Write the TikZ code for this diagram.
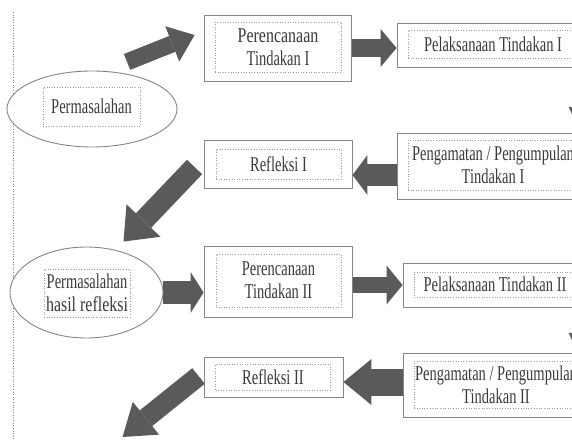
\documentclass[tikz,border=0pt]{standalone}
\usepackage{fontspec}
\setmainfont{Liberation Serif}
\usepackage{graphicx}
\usetikzlibrary{calc}
\usetikzlibrary{shapes.geometric, arrows.meta, backgrounds}

\definecolor{arrowgray}{HTML}{5A5A5A}
\definecolor{linegray}{HTML}{858585}
\definecolor{dotgray}{HTML}{9A9A9A}
\definecolor{textgray}{HTML}{3A3A3A}

% text of the scan is set tall and narrow
\newcommand{\tall}[2][1]{\scalebox{#1}[1.45]{#2}}

\tikzset{
  frame/.style={draw=linegray, fill=white, line width=0.9pt, inner sep=0pt},
  textbox/.style={draw=dotgray, dotted, line width=0.6pt, inner sep=0pt, align=center,
    text=textgray, font=\fontsize{14.5}{23}\selectfont},
  problem/.style={ellipse, draw=linegray, fill=white, line width=0.9pt, inner sep=0pt},
  blockarrow/.style n args={3}{draw=arrowgray, line width=#1,
    -{Triangle[width=#2, length=#3, line width=0pt]}}
}

\begin{document}
\begin{tikzpicture}[x=1pt, y=-1pt]
\useasboundingbox (0,0) rectangle (572,439);
\clip (0,0) rectangle (572,439);

% margin line
\draw[linegray, dotted, line width=0.6pt] (13,12) -- (13,439);

% Cycle I
\node[problem, minimum width=170pt, minimum height=76pt] (prob1) at (92,109) {};
\node[textbox, minimum width=97pt, minimum height=39pt] (prob1t) at (91.5,106.5) {\tall{Permasalahan}};

\node[frame, minimum width=147pt, minimum height=66pt] (plan1) at (277.5,48) {};
\node[textbox, minimum width=126pt, minimum height=50pt] (plan1t) at (278,47)
  {\tall[1.1]{Perencanaan}\\\tall{Tindakan I}};

\node[frame, minimum width=192pt, minimum height=44pt] (act1) at (493,45) {};
\node[textbox, minimum width=170pt, minimum height=28pt] (act1t) at (493,44) {\tall{Pelaksanaan Tindakan I}};

\node[frame, minimum width=192pt, minimum height=66pt] (obs1) at (493,166) {};
\node[textbox, minimum width=170pt, minimum height=50pt] (obs1t) at (493,165)
  {\tall{Pengamatan / Pengumpulan}\\\tall{Tindakan I}};

\node[frame, minimum width=148pt, minimum height=48pt] (refl1) at (278,164) {};
\node[textbox, minimum width=125pt, minimum height=30pt] (refl1t) at (278.5,164) {\tall{Refleksi I}};

% Cycle II
\node[problem, minimum width=153pt, minimum height=91pt] (prob2) at (86.5,292.5) {};
\node[textbox, minimum width=86pt, minimum height=48pt] (prob2t) at (87,293)
  {\tall{Permasalahan}\\\tall[1.1]{hasil refleksi}};

\node[frame, minimum width=148pt, minimum height=71pt] (plan2) at (278,281.5) {};
\node[textbox, minimum width=125pt, minimum height=53pt] (plan2t) at (278.5,280.5)
  {\tall{Perencanaan}\\\tall{Tindakan II}};

\node[frame, minimum width=184pt, minimum height=44pt] (act2) at (495,285) {};
\node[textbox, minimum width=162pt, minimum height=25pt] (act2t) at (495,284.5) {\tall{Pelaksanaan Tindakan II}};

\node[frame, minimum width=186pt, minimum height=64pt] (obs2) at (496,385) {};
\node[textbox, minimum width=164pt, minimum height=47pt] (obs2t) at (496,384.5)
  {\tall{Pengamatan / Pengumpulan}\\\tall{Tindakan II}};

\node[frame, minimum width=139pt, minimum height=40pt] (refl2) at (273.5,377) {};
\node[textbox, minimum width=115pt, minimum height=26pt] (refl2t) at (273,377) {\tall{Refleksi II}};

% free ends
\coordinate (o1) at ($(obs1.west)+(0,9)$);
\coordinate (o2) at ($(obs2.west)+(0,-3)$);
\coordinate (d1) at ($(prob2.north)+(37,-5)$);
\coordinate (d2) at ($(refl2.west)+(-81,60)$);

% Arrows
\begin{scope}[on background layer]
\draw[blockarrow={17pt}{38pt}{24pt}] ($(prob1.45)+(0,-12)$) -- ($(plan1.west)+(-9,-13)$);
\draw[blockarrow={18pt}{38pt}{16pt}] (plan1.east) -- (plan1.east -| act1.west);
\draw[blockarrow={14pt}{30pt}{20pt}] ($(act1.south east)+(-1,21)$) -- ($(obs1.north east)+(-11,-3)$);
\draw[blockarrow={22pt}{40pt}{15pt}] (o1) -- (o1 -| refl1.east);
\draw[blockarrow={21pt}{47pt}{29pt}] ($(refl1.west)+(-9,3)$) -- (d1);

\draw[blockarrow={23pt}{41pt}{13pt}] (prob2.east) -- (prob2.east -| plan2.west);
\draw[blockarrow={16pt}{39pt}{16pt}] (act2.west -| plan2.east) -- (act2.west);
\draw[blockarrow={14pt}{30pt}{20pt}] ($(act2.south east)+(1,7)$) -- ($(obs2.north east)+(-11,3)$);
\draw[blockarrow={27pt}{46pt}{28pt}] (o2) -- (o2 -| refl2.east);
\draw[blockarrow={20pt}{42pt}{30pt}] ($(refl2.west)+(-5,-1)$) -- (d2);
\end{scope}

\end{tikzpicture}
\end{document}
